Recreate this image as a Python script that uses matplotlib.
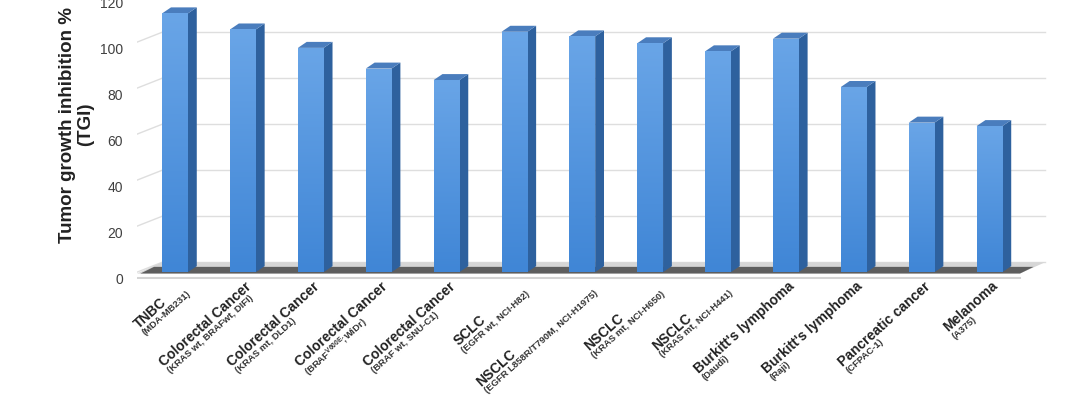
import matplotlib
matplotlib.use("Agg")
import matplotlib.pyplot as plt
import matplotlib.transforms as mtransforms
from matplotlib.patches import Polygon
from matplotlib.colors import LinearSegmentedColormap
import numpy as np

plt.rcParams['font.family'] = ['Liberation Sans', 'DejaVu Sans']
plt.rcParams['mathtext.fontset'] = 'custom'
plt.rcParams['mathtext.rm'] = 'Liberation Sans:bold'
plt.rcParams['mathtext.bf'] = 'Liberation Sans:bold'

# data
models = ['TNBC', 'Colorectal Cancer', 'Colorectal Cancer', 'Colorectal Cancer',
          'Colorectal Cancer', 'SCLC', 'NSCLC', 'NSCLC', 'NSCLC',
          "Burkitt's lymphoma", "Burkitt's lymphoma", 'Pancreatic cancer', 'Melanoma']
cell_lines = ['(MDA-MB231)', '(KRAS wt, BRAFwt, DIFI)', '(KRAS mt, DLD1)',
              r'(BRAF$^{\mathrm{V600E}}$;WiDr)', '(BRAF wt, SNU-C1)', '(EGFR wt, NCI-H82)',
              '(EGFR L858R/T790M, NCI-H1975)', '(KRAS mt, NCI-H650)', '(KRAS mt, NCI-H441)',
              '(Daudi)', '(Raji)', '(CFPAC-1)', '(A375)']
tgi = [112.5, 105.5, 97.5, 88.5, 83.5, 104.5, 102.5, 99.5, 96.0, 101.5, 80.5, 65.0, 63.5]
yticks = [0, 20, 40, 60, 80, 100, 120]

fig = plt.figure(figsize=(10.8, 4.05), dpi=100)
ax = fig.add_axes([0.1269, 0.311, 0.849, 0.727])

x = np.arange(len(tgi))
hw = 0.19          # half width of the front face
bdx, bdy = 0.13, 2.6   # bar depth
x0, x1 = -0.56, 12.45  # floor front left / right
wdx, wdy = 0.37, 4.3   # wall depth

# walls: gridlines on back wall + side wall
for v in yticks:
    ax.plot([x0 + wdx, x1 + wdx], [v + wdy, v + wdy], color='#dedede', lw=1, zorder=0.5)
    ax.plot([x0, x0 + wdx], [v, v + wdy], color='#dedede', lw=1, zorder=0.5)

# floor: light slab with the dark shadow band in front
floor = Polygon([(x0, -0.6), (x1, -0.6), (x1 + wdx, wdy), (x0 + wdx, wdy)],
                closed=True, facecolor='#d6d6d6', edgecolor='none', zorder=1)
ax.add_patch(floor)
shadow = Polygon([(x0 + 0.05, -0.6), (x1, -0.6), (x1 + 0.2, 2.3), (x0 + 0.25, 2.3)],
                 closed=True, facecolor='#5e5e5e', edgecolor='none', zorder=1.2)
ax.add_patch(shadow)
ax.plot([x0, x1], [-2.4, -2.4], color='#d4d4d4', lw=1.5, zorder=1)

# bars
front_cmap = LinearSegmentedColormap.from_list('front', ['#4086d6', '#69a5e7'])
bars = ax.bar(x, tgi, width=2 * hw, color='#5597dc', zorder=3)
grad = np.linspace(0, 1, 100).reshape(-1, 1)
for xi, v, b in zip(x, tgi, bars):
    im = ax.imshow(grad, extent=[xi - hw, xi + hw, 0, v], origin='lower',
                   aspect='auto', cmap=front_cmap, zorder=3.5)
    im.set_clip_path(b)
    side = Polygon([(xi + hw, 0), (xi + hw + bdx, bdy), (xi + hw + bdx, v + bdy), (xi + hw, v)],
                   closed=True, facecolor='#2e619e', edgecolor='none', zorder=3)
    top = Polygon([(xi - hw, v), (xi + hw, v), (xi + hw + bdx, v + bdy), (xi - hw + bdx, v + bdy)],
                  closed=True, facecolor='#4a7dbd', edgecolor='none', zorder=3)
    ax.add_patch(side)
    ax.add_patch(top)

ax.set_xlim(-0.56, 12.95)
ax.set_ylim(-3, 125)
ax.set_xticks([])
ax.set_yticks(yticks)
ax.tick_params(axis='y', length=0, pad=10, labelsize=10, labelcolor='#404040')
for lab in ax.get_yticklabels():
    lab.set_transform(lab.get_transform() +
                      mtransforms.ScaledTranslation(0, -6 / 100, fig.dpi_scale_trans))
for s in ax.spines.values():
    s.set_visible(False)

fig.text(0.071, 0.692, 'Tumor growth inhibition %\n(TGI)', rotation=90,
         ha='center', va='center', multialignment='center',
         fontsize=13.5, fontweight='bold', color='#222222', linespacing=1.05)

# rotated two-line category labels
renderer = fig.canvas.get_renderer()
ang = 42
ca, sa = np.cos(np.radians(ang)), np.sin(np.radians(ang))
line_h = 13.5
for xi, m, c in zip(x, models, cell_lines):
    t1 = fig.text(0, 0, m, fontsize=10, fontweight='bold')
    t2 = fig.text(0, 0, c, fontsize=6.8, fontweight='bold')
    w = max(t1.get_window_extent(renderer).width, t2.get_window_extent(renderer).width)
    t1.remove()
    t2.remove()
    base = ax.get_xaxis_transform()
    dx, dy = -w * ca + 2, -w * sa
    tr1 = mtransforms.offset_copy(base, fig=fig, x=dx, y=dy, units='dots')
    tr2 = mtransforms.offset_copy(base, fig=fig, x=dx + line_h * sa, y=dy - line_h * ca, units='dots')
    ax.text(xi, 0, m, transform=tr1, rotation=ang, rotation_mode='anchor',
            ha='left', va='top', fontsize=10, fontweight='bold', color='#222222', clip_on=False)
    ax.text(xi, 0, c, transform=tr2, rotation=ang, rotation_mode='anchor',
            ha='left', va='top', fontsize=6.8, fontweight='bold', color='#333333', clip_on=False)

fig.savefig('out.png', dpi=100)
